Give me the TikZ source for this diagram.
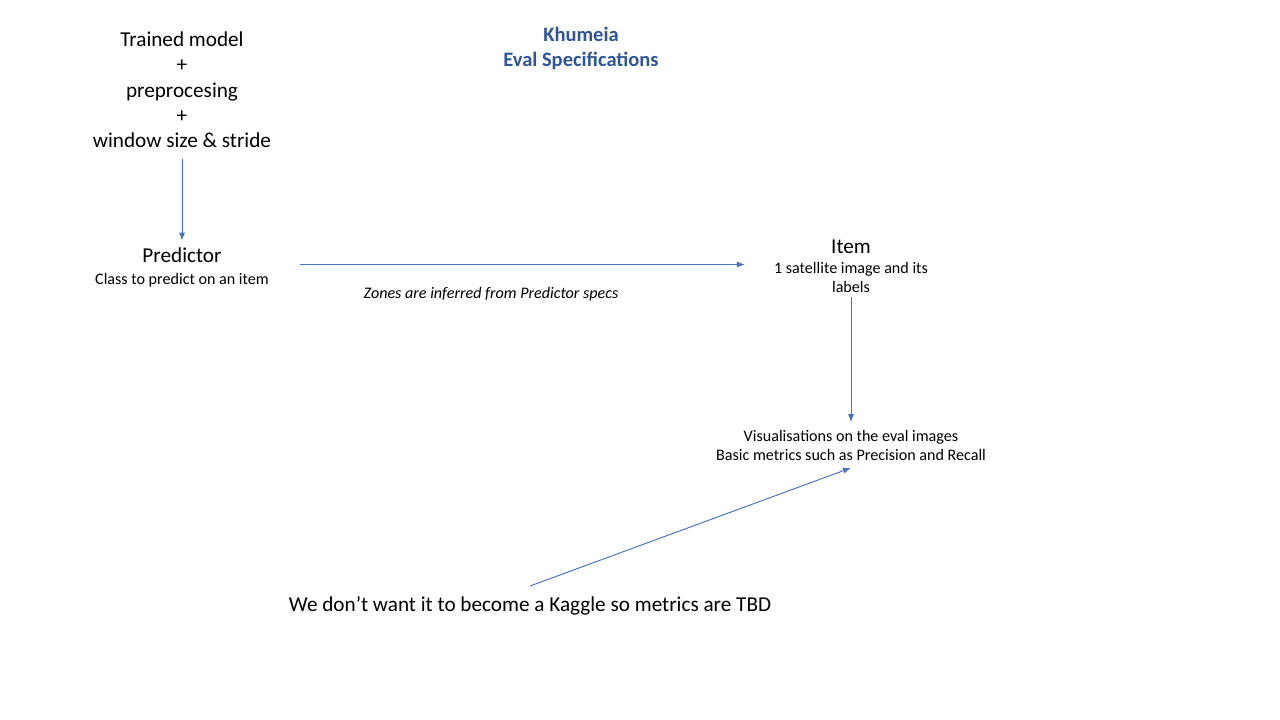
\documentclass[tikz,border=0pt]{standalone}
\usepackage{fontspec}
\setmainfont{Carlito}
\usepackage{xcolor}
\usetikzlibrary{arrows.meta}
\definecolor{arrowblue}{HTML}{4472C4}
\definecolor{titleblue}{HTML}{2F5597}

\begin{document}
\begin{tikzpicture}[x=1pt,y=-1pt]
				\tikzstyle{bigtext} = [align=center,inner sep=0pt,font=\fontsize{21.2}{25.3}\selectfont]
				\tikzstyle{smalltext} = [align=center,inner sep=0pt,font=\fontsize{16.1}{19}\selectfont]
				\tikzstyle{link} = [-{Latex[length=8pt,width=6pt]},draw=arrowblue,fill=arrowblue,line width=0.9pt]
				\useasboundingbox (0,0) rectangle (1280,720);
				\node[align=center,inner sep=0pt,text=titleblue,font=\fontsize{20.5}{25}\selectfont\bfseries] (title) at (581,48.5) {Khumeia\\Eval Specifications};
				\node[bigtext] (model) at (182,90) {Trained model\\+\\preprocesing\\+\\window size \& stride};
				\node[smalltext] (pred) at (182,267.5) {{\fontsize{21.2}{23}\selectfont Predictor}\\[3pt]Class to predict on an item};
				\node[smalltext] (item) at (851,266.5) {{\fontsize{21.2}{23}\selectfont Item}\\[1.5pt]1 satellite image and its\\labels};
				\node[smalltext,font=\fontsize{16.1}{19}\selectfont\itshape] (zones) at (491,294.5) {Zones are inferred from Predictor specs};
				\node[smalltext] (vis) at (851,445.5) {Visualisations on the eval images\\Basic metrics such as Precision and Recall};
				\node[bigtext] (kaggle) at (530,605.5) {We don’t want it to become a Kaggle so metrics are TBD};
				\draw[link,shorten <=11pt,shorten >=7pt] (model) -- (pred);
				\draw[link,shorten <=31pt,shorten >=29pt] ([yshift=3pt]pred.east) -- ([yshift=3pt]pred.east -| item.west);
				\draw[link,shorten <=4pt,shorten >=8pt] (item) -- (vis);
				\draw[link] ([yshift=10pt]kaggle.north) -- ([yshift=-7pt]vis.south);
\end{tikzpicture}
\end{document}
